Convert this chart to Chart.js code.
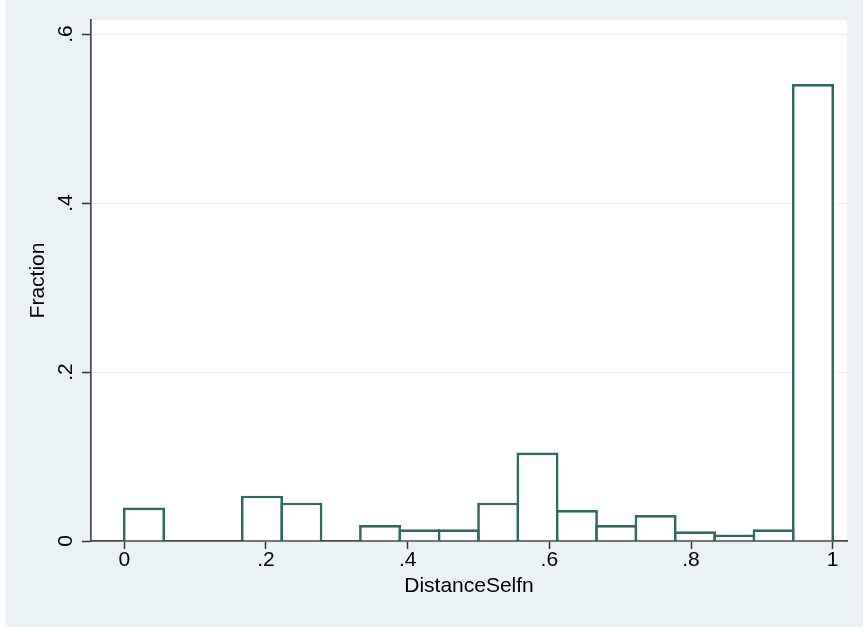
<!DOCTYPE html>
<html>
<head>
<meta charset="utf-8">
<script src="https://cdn.jsdelivr.net/npm/chart.js@4/dist/chart.umd.min.js"></script>
<style>
  html, body { margin: 0; padding: 0; background: #ffffff; }
  canvas { display: block; }
</style>
</head>
<body>
<canvas id="c" width="864" height="630"></canvas>
<script>
// Histogram of DistanceSelfn: bin midpoints (bin width 1/18) and fractions
const binMidpoints = [0.0278, 0.0833, 0.1389, 0.1944, 0.2500, 0.3056, 0.3611, 0.4167, 0.4722,
                      0.5278, 0.5833, 0.6389, 0.6944, 0.7500, 0.8056, 0.8611, 0.9167, 0.9722];
const fractions    = [0.0395, null, null, 0.0537, 0.0454, null, 0.0190, 0.0138, 0.0138,
                      0.0454, 0.1046, 0.0367, 0.0190, 0.0308, 0.0115, 0.0076, 0.0138, 0.5408];
const xTickValues = [0, 0.2, 0.4, 0.6, 0.8, 1];
const xTickLabels = ['0', '.2', '.4', '.6', '.8', '1'];
const yTickValues = [0, 0.2, 0.4, 0.6];
const yTickLabels = ['0', '.2', '.4', '.6'];
const xTitle = 'DistanceSelfn';
const yTitle = 'Fraction';

const FONT = '"Liberation Sans", Arial, Helvetica, sans-serif';
const BAR_COLOR = '#2e6a61';
const BG = '#eaf2f3';

const points = [];
binMidpoints.forEach((m, i) => { if (fractions[i] !== null) points.push({x: m, y: fractions[i]}); });

const bgPlugin = {
  id: 'bg',
  beforeDraw(chart) {
    const ctx = chart.ctx, a = chart.chartArea;
    ctx.save();
    ctx.fillStyle = '#ffffff';
    ctx.fillRect(0, 0, chart.width, chart.height);
    ctx.fillStyle = BG;
    ctx.fillRect(5, 0, 858, 627);
    ctx.fillStyle = '#ffffff';
    ctx.fillRect(a.left, a.top, a.right - a.left, a.bottom - a.top);
    ctx.restore();
  }
};

const yLabelPlugin = {
  id: 'ylabels',
  afterDraw(chart) {
    const ctx = chart.ctx, ys = chart.scales.y;
    ctx.save();
    ctx.fillStyle = '#000000';
    ctx.font = '21px ' + FONT;
    ctx.textAlign = 'center';
    ctx.textBaseline = 'alphabetic';
    yTickValues.forEach((v, i) => {
      const py = ys.getPixelForValue(v);
      ctx.save();
      ctx.translate(72, py);
      ctx.rotate(-Math.PI / 2);
      ctx.fillText(yTickLabels[i], 0, 0);
      ctx.restore();
    });
    ctx.restore();
  }
};

new Chart(document.getElementById('c'), {
  type: 'bar',
  data: {
    datasets: [{
      data: points,
      backgroundColor: '#ffffff',
      borderColor: BAR_COLOR,
      borderWidth: 2.7,
      borderSkipped: 'start',
      barPercentage: 1.069,
      categoryPercentage: 1,
      inflateAmount: 0
    }]
  },
  options: {
    responsive: false,
    devicePixelRatio: 1,
    animation: false,
    layout: { padding: { left: 0, top: 20, right: 17, bottom: 0 } },
    plugins: { legend: { display: false }, tooltip: { enabled: false } },
    scales: {
      x: {
        type: 'linear',
        offset: false,
        min: -0.0470,
        max: 1.0202,
        z: 1,
        afterBuildTicks(scale) { scale.ticks = xTickValues.map(v => ({ value: v })); },
        afterFit(scale) { scale.height = 89; },
        ticks: {
          autoSkip: false,
          maxRotation: 0,
          minRotation: 0,
          padding: 0.5,
          color: '#000000',
          font: { family: FONT, size: 21, lineHeight: 1 },
          callback: (v, i) => xTickLabels[i]
        },
        grid: {
          offset: false,
          drawOnChartArea: false,
          drawTicks: true,
          tickLength: 8,
          tickColor: '#333333',
          tickWidth: 1.5
        },
        border: { display: true, color: '#4a4a4a', width: 1.7 },
        title: {
          display: true,
          text: xTitle,
          color: '#000000',
          font: { family: FONT, size: 21 },
          padding: { top: 0, bottom: 31.6 }
        }
      },
      y: {
        type: 'linear',
        min: 0,
        max: 0.6166,
        afterBuildTicks(scale) { scale.ticks = yTickValues.map(v => ({ value: v })); },
        afterFit(scale) { scale.width = 91; },
        ticks: { display: false },
        grid: {
          drawOnChartArea: true,
          drawTicks: true,
          tickLength: 9,
          color: '#e6eef1',
          lineWidth: 1,
          tickColor: '#333333',
          tickWidth: 1.5
        },
        border: { display: true, color: '#4a4a4a', width: 1.7 },
        title: {
          display: true,
          text: yTitle,
          color: '#000000',
          font: { family: FONT, size: 21 },
          padding: { top: 25.9, bottom: 0 }
        }
      }
    }
  },
  plugins: [bgPlugin, yLabelPlugin]
});
</script>
</body>
</html>
